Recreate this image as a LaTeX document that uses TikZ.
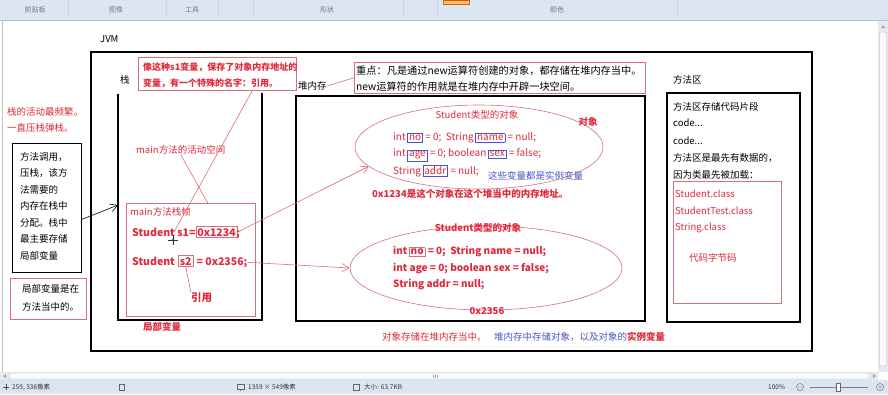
\documentclass[tikz,border=0pt]{standalone}
\usepackage{fontspec}
\setmainfont{Noto Sans CJK SC}
\usetikzlibrary{arrows.meta,shapes.geometric,calc}

\definecolor{ink}{HTML}{E2283A}
\definecolor{pen}{HTML}{D8707A}
\definecolor{blueink}{HTML}{4A55C8}
\definecolor{bar}{HTML}{DCE6F3}
\definecolor{barline}{HTML}{B4C3D8}
\definecolor{uitext}{HTML}{6F7A8A}
\definecolor{scroll}{HTML}{E6EAF0}
\definecolor{status}{HTML}{DCE4F0}

\newcommand\fsz[1]{\fontsize{#1}{#1}\selectfont}
\newcommand\bluebox[1]{\hspace{1.5pt}{\setlength\fboxsep{1.2pt}\setlength\fboxrule{0.6pt}\textcolor{blueink}{\fbox{\textcolor{ink}{#1}}}}}
\newcommand\redbox[1]{\hspace{1.5pt}{\setlength\fboxsep{1.2pt}\setlength\fboxrule{0.6pt}\textcolor{pen}{\fbox{\textcolor{ink}{#1}}}}}

\tikzset{
  frame/.style={draw=black, line width=2pt},
  note/.style={draw=pen, line width=0.7pt},
  t/.style={inner sep=0pt, anchor=west, font=\fsz{9.5}},
  tr/.style={t, text=ink},
  tb/.style={t, text=ink, font=\fsz{9.5}\bfseries},
  code/.style={t, text=ink, font=\fsz{10}},
  codeb/.style={t, text=ink, font=\fsz{10}\bfseries},
  stk/.style={t, text=ink, font=\fsz{10.5}\bfseries},
  link/.style={draw=pen, line width=0.6pt},
  arr/.style={link, -{Straight Barb[length=7pt,width=8pt]}},
  ui/.style={inner sep=0pt, font=\fsz{7}, text=uitext},
  stat/.style={inner sep=0pt, anchor=west, font=\fsz{6.5}, text=black!80},
}

\begin{document}
\begin{tikzpicture}[x=1pt,y=-1pt]
\useasboundingbox (0,0) rectangle (888,394);
\fill[white] (0,0) rectangle (888,394);

% ribbon strip
\fill[bar] (0,0) rectangle (888,20);
\draw[barline] (0,20.5) -- (888,20.5);
\foreach \x in {68,166,218,253,403,437,677} \draw[barline!70] (\x,0) -- (\x,17);
\fill[orange!55, draw=orange!80!black, line width=0.4pt] (443,0) rectangle (469,4);
\node[ui] (rb1) at (35,10) {剪贴板};
\node[ui] (rb2) at (116,10) {图像};
\node[ui] (rb3) at (192,10) {工具};
\node[ui] (rb4) at (327,10) {形状};
\node[ui] (rb5) at (557,10) {颜色};

% canvas edge and scroll bars
\draw[gray!50] (2.5,21) -- (2.5,372);
\fill[scroll] (878,21) rectangle (888,372);
\fill[gray!70] (881,28) -- (885,28) -- (883,25) -- cycle;
\draw[gray!60, fill=white!96!gray, rounded corners=1pt] (879.5,32) rectangle (886.5,366);
\fill[scroll] (0,372) rectangle (878,380);
\draw[gray!60, fill=white!96!gray, rounded corners=1pt] (9,373) rectangle (870,379);
\foreach \x in {433,435,437} \draw[gray!70] (\x,374.5) -- (\x,377.5);
\fill[gray!70] (6,374) -- (6,378) -- (3,376) -- cycle;
\fill[gray!70] (873,374) -- (873,378) -- (876,376) -- cycle;

% status bar
\fill[status] (0,380) rectangle (888,394);
\draw[black!70, line width=0.4pt] (3,387) -- (9,387) (6,384) -- (6,390);
\node[stat] (st1) at (12,387) {259, 336像素};
\draw[black!60, line width=0.4pt] (119,384) rectangle (124,390);
\draw[black!60, line width=0.4pt] (237,384) rectangle (244,389) (240.5,389) -- (240.5,391);
\node[stat] (st2) at (248,387) {1359 × 549像素};
\draw[black!60, line width=0.4pt] (353,384) rectangle (359,390);
\node[stat] (st3) at (364,387) {大小: 63.7KB};
\node[stat] (st4) at (768,387) {100\%};
\draw[black!60, line width=0.4pt] (800,387) circle (3.5pt) (798,387) -- (802,387);
\draw[black!50, line width=0.6pt] (810,387) -- (868,387);
\draw[black!60, fill=white, line width=0.4pt] (836,383) rectangle (840,391);
\draw[black!60, line width=0.4pt] (880,387) circle (3.5pt) (878,387) -- (882,387) (880,385) -- (880,389);

% JVM outline
\node[t] (jvmlabel) at (100,39) {JVM};
\draw[frame] (91,52) rectangle (812,351);

% stack
\node[t] (stacklabel) at (120,80) {栈};
\draw[frame] (118,94) -- (118,320) -- (262,320) -- (262,93);
\coordinate (stackside) at (118,205);

\node[note, anchor=north west, minimum width=158pt, minimum height=33pt, inner sep=0pt] (n1) at (138,57) {};
\node[tb, font=\fsz{9}\bfseries] (n1a) at (143,67) {像这种s1变量，保存了对象内存地址的};
\node[tb, font=\fsz{9}\bfseries] (n1b) at (143,83) {变量，有一个特殊的名字：引用。};

\node[tr] (ma) at (136,150) {main方法的活动空间};
\node[note, anchor=north west, minimum width=129pt, minimum height=113pt, inner sep=0pt] (fr) at (126,203) {};
\node[tr] (frl) at (130,212) {main方法栈帧};

\node[stk, anchor=base west] (s1a) at (132,236) {Student s1=};
\node[stk, anchor=base west, draw=pen, line width=0.6pt, inner sep=1.5pt] (s1v) at (s1a.base east) {0x1234};
\node[stk, anchor=base west, xshift=-1.5pt] (s1c) at (s1v.base east) {;};

\node[stk, anchor=base west] (s2a) at (132,265) {Student};
\node[stk, anchor=base west, draw=pen, line width=0.6pt, inner sep=1.5pt, xshift=3pt] (s2v) at (s2a.base east) {s2};
\node[stk, anchor=base west, xshift=3pt] (s2c) at (s2v.base east) {= 0x2356;};

\node[stk] (ref) at (191,298) {引用};
\node[tb, anchor=center] (locals) at (162,327) {局部变量};

\coordinate (s1name) at (174,232);
\draw[link] ($(n1.south west)!0.72!(n1.south east)$) -- (s1name);
\draw[link] (ma.south) -- ($(fr.north west)!0.63!(fr.north east)$);
\draw[link] (s2v.south) -- (ref.north west);

% mouse cursor
\draw[black!80, line width=0.4pt] (168,240) -- (178,240) (173,235) -- (173,245);
\draw[black!80, line width=0.4pt] (173,240) circle (1.2pt);

% left notes
\node[tr] (lf1) at (7,112) {栈的活动最频繁。};
\node[tr] (lf2) at (7,128) {一直压栈弹栈。};
\node[draw=black, line width=0.7pt, anchor=north west, minimum width=69pt, minimum height=129pt, inner sep=0pt] (bb) at (12,143) {};
\node[t] (bb1) at (20,157) {方法调用，};
\node[t] (bb2) at (20,173) {压栈，该方};
\node[t] (bb3) at (20,190) {法需要的};
\node[t] (bb4) at (20,206) {内存在栈中};
\node[t] (bb5) at (20,223) {分配。栈中};
\node[t] (bb6) at (20,239) {最主要存储};
\node[t] (bb7) at (20,256) {局部变量};
\node[note, anchor=north west, minimum width=76pt, minimum height=41pt, inner sep=0pt] (rb) at (10,278) {};
\node[t] (rb1t) at (22,289) {局部变量是在};
\node[t] (rb2t) at (22,307) {方法当中的。};
\draw[black, line width=0.6pt, -{Straight Barb[length=7pt,width=8pt]}] ($(bb.north east)!0.59!(bb.south east)$) -- (stackside);

% heap
\node[t] (heaplabel) at (298,86) {堆内存};
\draw[frame] (296,96) rectangle (645,321);
\node[note, anchor=north west, minimum width=291pt, minimum height=31pt, inner sep=0pt] (n2) at (354,62) {};
\node[t, font=\fsz{10.2}] (n2a) at (356,71) {重点：凡是通过new运算符创建的对象，都存储在堆内存当中。};
\node[t, font=\fsz{10.2}] (n2b) at (356,87) {new运算符的作用就是在堆内存中开辟一块空间。};
\draw[link] (heaplabel.east) -- (n2.west);

\node[draw=pen, line width=0.6pt, ellipse, minimum width=248pt, minimum height=84pt, inner sep=0pt] (e1) at (479,147) {};
\node[tr, anchor=center] (e1t) at (477,115) {Student类型的对象};
\node[tb, anchor=center] (objw) at (588,122) {对象};
\node[code] (l1) at (393,138) {int\bluebox{no} = 0;\ \ String\bluebox{name} = null;};
\node[code] (l2) at (393,155) {int\bluebox{age} = 0; boolean\bluebox{sex} = false;};
\node[code] (l3) at (393,171) {String\bluebox{addr} = null;};
\node[t, text=blueink] (inst) at (488,176) {这些变量都是实例变量};
\node[tb] (addr1) at (372,194) {0x1234是这个对象在这个堆当中的内存地址。};

\node[draw=pen, line width=0.6pt, ellipse, minimum width=272pt, minimum height=84pt, inner sep=0pt] (e2) at (486,268) {};
\node[tb, anchor=center] (e2t) at (478,228) {Student类型的对象};
\node[codeb] (m1) at (393,252) {int\redbox{no} = 0;\ \ String name = null;};
\node[codeb] (m2) at (393,269) {int age = 0; boolean sex = false;};
\node[codeb] (m3) at (393,285) {String addr = null;};
\node[tb, anchor=center] (addr2) at (487,311) {0x2356};

\draw[arr] (s1v.east) -- (e1.190);
\draw[arr] (s2c.east) -- (e2.west);

\node[tr] (bt1) at (382,337) {对象存储在堆内存当中。};
\node[t, text=blueink] (bt2) at (494,337) {堆内存中存储对象，以及对象的\textcolor{ink}{\bfseries 实例变量}};

% method area
\node[t] (mlabel) at (673,80) {方法区};
\draw[frame] (667,93) rectangle (800,322);
\node[t] (ma1) at (673,107) {方法区存储代码片段};
\node[t] (ma2) at (673,123) {code...};
\node[t] (ma3) at (673,141) {code...};
\node[t] (ma4) at (673,158) {方法区是最先有数据的，};
\node[t] (ma5) at (673,175) {因为类最先被加载：};
\draw[note] (673,181) rectangle (781,303);
\node[tr] (cl1) at (675,194) {Student.class};
\node[tr] (cl2) at (675,211) {StudentTest.class};
\node[tr] (cl3) at (675,228) {String.class};
\node[tr] (bc) at (689,258) {代码字节码};
\end{tikzpicture}
\end{document}
